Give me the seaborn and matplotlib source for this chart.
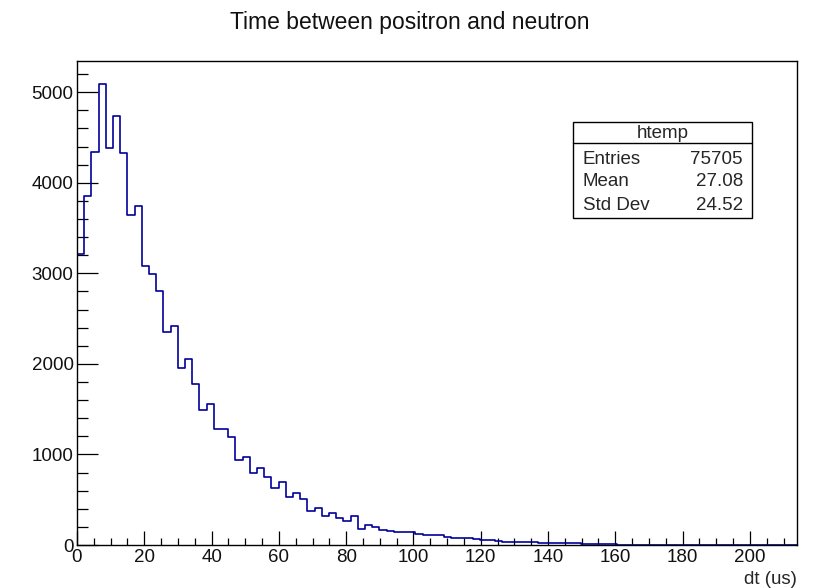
import numpy as np
import pandas as pd
import seaborn as sns
import matplotlib.pyplot as plt
from matplotlib.patches import Rectangle
from matplotlib.lines import Line2D
from matplotlib.ticker import MultipleLocator

# bin contents of htemp (100 bins, dt in us)
counts = [
    3210, 3850, 4340, 5090, 4380, 4740, 4330, 3640, 3740, 3080,
    2990, 2810, 2350, 2420, 1950, 2050, 1780, 1495, 1555, 1285,
    1285, 1195, 940, 970, 800, 845, 755, 625, 700, 527,
    571, 505, 376, 405, 320, 350, 302, 265, 320, 177,
    218, 202, 166, 160, 148, 147, 145, 118, 110, 108,
    105, 92, 78, 75, 73, 70, 57, 53, 40, 38,
    37, 36, 35, 33, 22, 20, 20, 19, 18, 17,
    16, 15, 14, 12, 10, 0, 0, 0, 0, 0,
    0, 0, 0, 0, 0, 0, 0, 0, 0, 0,
    0, 0, 0, 0, 0, 0, 0, 0, 0, 0,
]
x_min, x_max = 0, 214

title = "Time between positron and neutron"
x_label = "dt (us)"
stats_name = "htemp"
stats_rows = [("Entries", "75705"), ("Mean", "27.08"), ("Std Dev", "24.52")]

edges = np.linspace(x_min, x_max, len(counts) + 1)
df = pd.DataFrame({"dt": 0.5 * (edges[:-1] + edges[1:]), "n": counts})

sns.set_style("white")
plt.rcParams['font.family'] = ['Liberation Sans', 'DejaVu Sans']

W, H = 820, 588
fig = plt.figure(figsize=(W / 100, H / 100), dpi=100)
ax = fig.add_axes([77 / W, 1 - 545 / H, 720 / W, 484 / H])

sns.histplot(data=df, x="dt", weights="n", bins=len(counts),
             binrange=(x_min, x_max), element="step", fill=False,
             color="#000099", linewidth=1.2, ax=ax)

ax.set_xlim(x_min, x_max)
ax.set_ylim(0, max(counts) * 1.05)
ax.set_ylabel("")
ax.set_xlabel(x_label, loc="right", fontsize=13.5)
ax.xaxis.set_label_coords(1.0, -0.053)

ax.xaxis.set_major_locator(MultipleLocator(20))
ax.xaxis.set_minor_locator(MultipleLocator(5))
ax.yaxis.set_major_locator(MultipleLocator(1000))
ax.yaxis.set_minor_locator(MultipleLocator(200))
ax.tick_params(axis="both", which="both", direction="in", bottom=True, left=True,
               top=False, right=False, color="black", width=0.9,
               labelsize=13.5, labelcolor="#111111")
ax.tick_params(axis="x", which="major", length=10, pad=2.6)
ax.tick_params(axis="x", which="minor", length=5)
ax.tick_params(axis="y", which="major", length=15, pad=2.5)
ax.tick_params(axis="y", which="minor", length=8)
for sp in ax.spines.values():
    sp.set_visible(True)
    sp.set_color("black")
    sp.set_linewidth(1.0)

fig.text(410 / W, 1 - 29 / H, title, fontsize=16.5, ha="center", va="baseline",
         color="#111111")

# stats box (pixel positions of the ROOT pave)
bl, br, bt, bb, bsep = 573, 752, 122, 218, 143
fig.add_artist(Rectangle((bl / W, 1 - bb / H), (br - bl) / W, (bb - bt) / H,
                         transform=fig.transFigure, facecolor="white",
                         edgecolor="black", linewidth=1.0, zorder=5))
fig.add_artist(Line2D([bl / W, br / W], [1 - bsep / H, 1 - bsep / H],
                      transform=fig.transFigure, color="black", linewidth=1.0,
                      zorder=6))
fig.text((bl + br) / 2 / W, 1 - 133 / H, stats_name, fontsize=13.5,
         ha="center", va="center", zorder=7)
for i, (name, val) in enumerate(stats_rows):
    yy = 1 - (159 + i * 23) / H
    fig.text(583 / W, yy, name, fontsize=13.5, ha="left", va="center", zorder=7)
    fig.text(743 / W, yy, val, fontsize=13.5, ha="right", va="center", zorder=7)

fig.savefig("out.png", dpi=100)
